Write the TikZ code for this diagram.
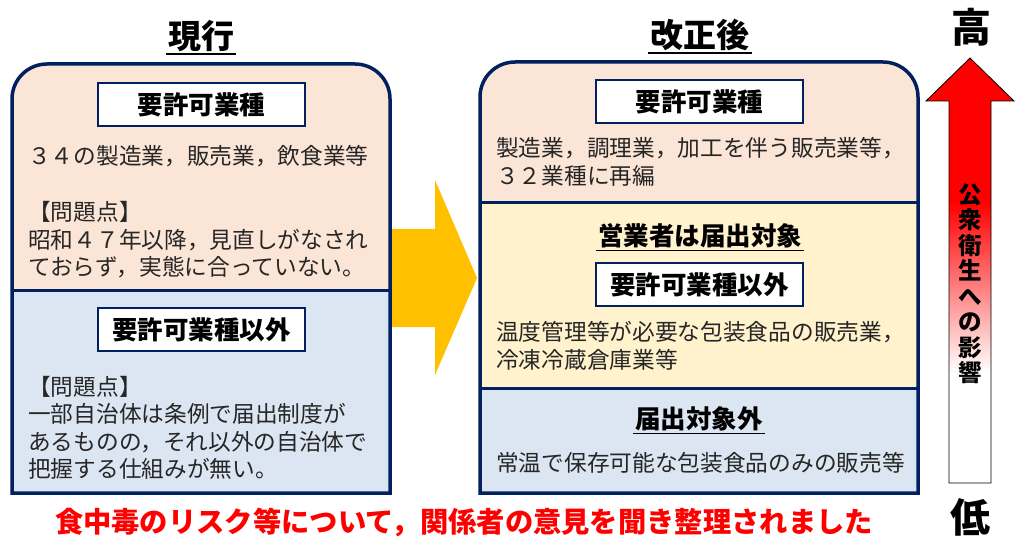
\documentclass[tikz,border=0pt]{standalone}
\usepackage{fontspec}
\setmainfont{Noto Sans CJK JP}
\usepackage{tikz}
\definecolor{navyline}{RGB}{0,32,96}
\definecolor{peach}{RGB}{251,229,214}
\definecolor{paleblue}{RGB}{220,230,242}
\definecolor{paleyellow}{RGB}{255,242,204}
\definecolor{amber}{RGB}{255,192,0}
\pgfdeclareverticalshading{riskshade}{100bp}{color(0bp)=(white); color(38bp)=(white); color(58bp)=(red); color(100bp)=(red)}

\begin{document}
\begin{tikzpicture}[x=1pt, y=-1pt,
        outline/.style={draw=navyline, line width=3.5pt},
        divider/.style={navyline, line width=3pt},
        kindbox/.style={draw=navyline, line width=2.8pt, fill=white, minimum width=207pt, minimum height=43pt, inner sep=0pt, font=\fontsize{25.5}{28}\selectfont\bfseries},
        body/.style={anchor=west, inner sep=0pt, align=left, text=black!85, font=\fontsize{22.7}{27.5}\selectfont},
        uline/.style={inner sep=2pt, append after command={(\tikzlastnode.south west) edge[draw=black, line width=1.6pt] (\tikzlastnode.south east)}},
        heading/.style={font=\fontsize{33}{36}\selectfont\bfseries},
        subhead/.style={font=\fontsize{25.5}{28}\selectfont\bfseries},
        endword/.style={inner sep=0pt, font=\fontsize{40}{44}\selectfont\bfseries},
        riskword/.style={inner sep=0pt, align=center, font=\fontsize{23.5}{25.5}\selectfont\bfseries},
        note/.style={inner sep=0pt, text=red, font=\fontsize{28.3}{32}\selectfont\bfseries}]
        \useasboundingbox (0,0) rectangle (1018,548);

        \fill[amber] (390,229) -- (435,229) -- (435,180) -- (477,278) -- (435,375) -- (435,327) -- (390,327) -- cycle;

        \fill[peach] (12,493) -- (12,99) arc[start angle=180, end angle=270, radius=35] -- (355,64) arc[start angle=270, end angle=360, radius=35] -- (390,493) -- cycle;
        \fill[paleblue] (12,291) rectangle (390,493);
        \draw[divider] (12,291) -- (390,291);
        \draw[outline] (12,493) -- (12,99) arc[start angle=180, end angle=270, radius=35] -- (355,64) arc[start angle=270, end angle=360, radius=35] -- (390,493) -- cycle;

        \fill[peach] (480,493) -- (480,97) arc[start angle=180, end angle=270, radius=35] -- (883,62) arc[start angle=270, end angle=360, radius=35] -- (918,493) -- cycle;
        \fill[paleyellow] (480,203) rectangle (918,388);
        \fill[paleblue] (480,388) rectangle (918,493);
        \draw[divider] (480,203) -- (918,203);
        \draw[divider] (480,388) -- (918,388);
        \draw[outline] (480,493) -- (480,97) arc[start angle=180, end angle=270, radius=35] -- (883,62) arc[start angle=270, end angle=360, radius=35] -- (918,493) -- cycle;

        \node[heading, uline] (nowtitle) at (201,36) {現行};
        \node[heading, uline] (newtitle) at (700,35) {改正後};

        \node[kindbox] (nowlicensed) at (201.5,104.5) {要許可業種};
        \node[body] (nowlist) at (28,156) {３４の製造業，販売業，飲食業等};
        \node[body] (nowissue) at (28,240) {【問題点】\\昭和４７年以降，見直しがなされ\\ておらず，実態に合っていない。};

        \node[kindbox] (nowother) at (201.5,329.5) {要許可業種以外};
        \node[body] (otherissue) at (28,428) {【問題点】\\一部自治体は条例で届出制度が\\あるものの，それ以外の自治体で\\把握する仕組みが無い。};

        \node[kindbox] (newlicensed) at (699.5,101.5) {要許可業種};
        \node[body] (newlist) at (496,162) {製造業，調理業，加工を伴う販売業等，\\３２業種に再編};

        \node[subhead, uline] (notified) at (700,236) {営業者は届出対象};
        \node[kindbox] (newother) at (699.5,284.5) {要許可業種以外};
        \node[body] (otherlist) at (496,346) {温度管理等が必要な包装食品の販売業，\\冷凍冷蔵倉庫業等};

        \node[subhead, uline] (exempt) at (699,419) {届出対象外};
        \node[body] (exemptlist) at (496,463) {常温で保存可能な包装食品のみの販売等};

        \shadedraw[shading=riskshade, draw=black, line width=0.8pt] (949,483) -- (949,101) -- (926,101) -- (970,58) -- (1014,101) -- (991,101) -- (991,483) -- cycle;
        \node[riskword] (impact) at (970,284) {公\\衆\\衛\\生\\へ\\の\\影\\響};
        \node[endword] (high) at (971,27) {高};
        \node[endword] (low) at (970,517) {低};

        \node[note] (summary) at (464,522) {食中毒のリスク等について，関係者の意見を聞き整理されました};
    \end{tikzpicture}
\end{document}
